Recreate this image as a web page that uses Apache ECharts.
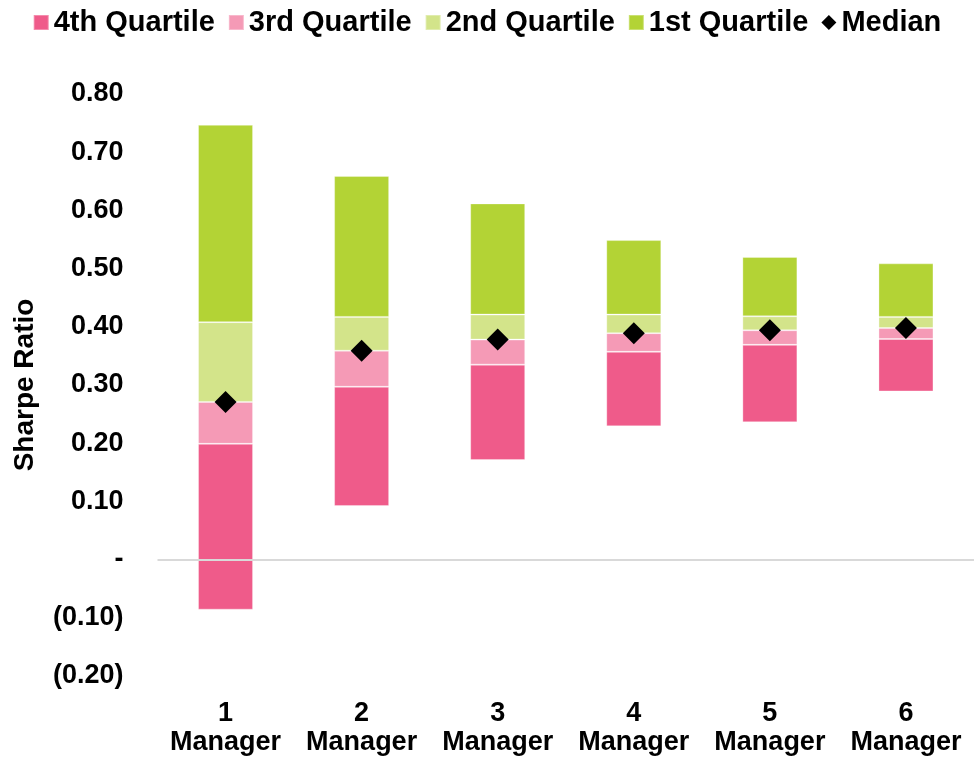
<!DOCTYPE html>
<html>
<head>
<meta charset="utf-8">
<script src="https://cdn.jsdelivr.net/npm/echarts@6/dist/echarts.min.js"></script>
<style>
html,body{margin:0;padding:0;background:#fff;}
#chart{width:974px;height:761px;}
</style>
</head>
<body>
<div id="chart"></div>
<script>
const categories = ['1\nManager', '2\nManager', '3\nManager', '4\nManager', '5\nManager', '6\nManager'];
const minValues   = [-0.086, 0.092, 0.171, 0.229, 0.236, 0.289];
const lowerQuart  = [0.199, 0.297, 0.335, 0.357, 0.369, 0.379];
const medians     = [0.271, 0.359, 0.378, 0.389, 0.394, 0.398];
const upperQuart  = [0.408, 0.417, 0.421, 0.421, 0.418, 0.417];
const maxValues   = [0.747, 0.659, 0.612, 0.549, 0.520, 0.509];
const seriesNames = ['4th Quartile', '3rd Quartile', '2nd Quartile', '1st Quartile', 'Median'];
const yTicks = { min: -0.2, max: 0.8, interval: 0.1 };

const colors = ['#EF5B8A', '#F59AB6', '#D3E48A', '#B3D335'];
const diff = (a, b) => a.map((v, i) => +(v - b[i]).toFixed(4));
const segs = [
  diff(lowerQuart, minValues),
  diff(medians, lowerQuart),
  diff(upperQuart, medians),
  diff(maxValues, upperQuart)
];

const font = 'Liberation Sans, Arial, sans-serif';
const chart = echarts.init(document.getElementById('chart'), null, { renderer: 'canvas' });

const barSeries = segs.map((d, i) => ({
  name: seriesNames[i],
  type: 'bar',
  stack: 'q',
  stackStrategy: 'all',
  barWidth: 55,
  itemStyle: { color: colors[i], borderColor: 'rgba(255,255,255,0.3)', borderWidth: 1 },
  emphasis: { disabled: true },
  data: d
}));

chart.setOption({
  animation: false,
  backgroundColor: '#fff',
  legend: {
    top: 3,
    left: 'center',
    itemWidth: 15,
    itemHeight: 15,
    itemGap: 13,
    data: [
      { name: '4th Quartile', icon: 'rect' },
      { name: '3rd Quartile', icon: 'rect' },
      { name: '2nd Quartile', icon: 'rect' },
      { name: '1st Quartile', icon: 'rect' },
      { name: 'Median', icon: 'diamond' }
    ],
    textStyle: { fontFamily: font, fontWeight: 'bold', fontSize: 29, color: '#000' }
  },
  grid: { left: 157.5, right: -4.5, top: 94, bottom: 85, containLabel: false },
  xAxis: {
    type: 'category',
    data: categories,
    axisLine: { show: false, onZero: false },
    axisTick: { show: false },
    axisLabel: {
      interval: 0,
      margin: 23,
      fontFamily: font, fontWeight: 'bold', fontSize: 27, lineHeight: 29, color: '#000'
    }
  },
  yAxis: {
    type: 'value',
    min: yTicks.min,
    max: yTicks.max,
    interval: yTicks.interval,
    name: 'Sharpe Ratio',
    nameLocation: 'middle',
    nameRotate: 90,
    nameGap: 118,
    nameTextStyle: { fontFamily: font, fontWeight: 'bold', fontSize: 28, color: '#000' },
    axisLine: { show: false },
    axisTick: { show: false },
    splitLine: { show: false },
    axisLabel: {
      margin: 34,
      fontFamily: font, fontWeight: 'bold', fontSize: 27, color: '#000',
      formatter: v => {
        const r = Math.round(v * 100) / 100;
        if (Math.abs(r) < 1e-9) return '-';
        if (r < 0) return '(' + Math.abs(r).toFixed(2) + ')';
        return r.toFixed(2);
      }
    }
  },
  series: [
    {
      name: 'base',
      type: 'bar',
      stack: 'q',
      stackStrategy: 'all',
      barWidth: 55,
      itemStyle: { color: 'transparent' },
      emphasis: { disabled: true },
      silent: true,
      data: minValues,
      markLine: {
        silent: true,
        symbol: ['none', 'none'],
        label: { show: false },
        lineStyle: { color: '#D9D9D9', width: 2, type: 'solid' },
        data: [{ yAxis: 0 }]
      }
    },
    ...barSeries,
    {
      name: 'Median',
      type: 'scatter',
      symbol: 'diamond',
      symbolSize: 22,
      itemStyle: { color: '#000', opacity: 1 },
      z: 5,
      data: medians
    }
  ]
});
</script>
</body>
</html>
